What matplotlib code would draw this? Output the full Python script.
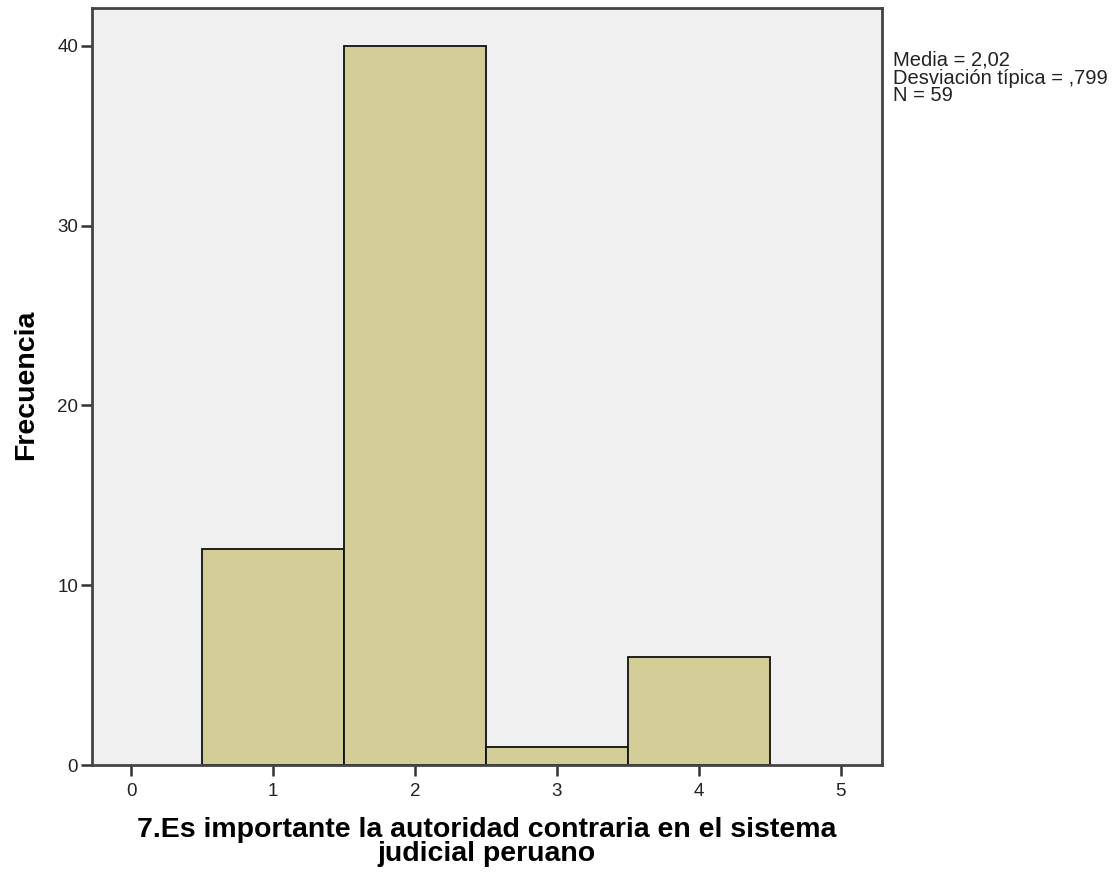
import matplotlib
matplotlib.use("Agg")
import matplotlib.pyplot as plt

categories = [1, 2, 3, 4]
frequencies = [12, 40, 1, 6]
x_ticks = [0, 1, 2, 3, 4, 5]
y_ticks = [0, 10, 20, 30, 40]
stats_lines = ["Media = 2,02", "Desviación típica = ,799", "N = 59"]
x_label = "7.Es importante la autoridad contraria en el sistema\njudicial peruano"
y_label = "Frecuencia"

plt.rcParams['font.family'] = ['Liberation Sans', 'DejaVu Sans']

fig = plt.figure(figsize=(11.2, 8.77), dpi=100)
ax = fig.add_axes([92/1120, 1-765/877, (882-92)/1120, (765-8)/877])
ax.set_facecolor('#F0F0F0')

ax.bar(categories, frequencies, width=1.0, color='#D3CE97', edgecolor='#111111', linewidth=1.3, zorder=2)

ax.set_xlim(-0.275, 5.29)
ax.set_ylim(0, 42.1)
ax.set_xticks(x_ticks)
ax.set_yticks(y_ticks)
ax.tick_params(axis='both', direction='out', length=8, width=1.8, color='#333333',
               labelsize=13.5, labelcolor='#222222', pad=2)
ax.tick_params(axis='x', pad=5)
for s in ax.spines.values():
    s.set_linewidth(2)
    s.set_color('#444444')

ax.set_xlabel(x_label, fontsize=20.5, fontweight='bold', linespacing=0.88)
ax.xaxis.set_label_coords(0.5, -0.0687)
ax.set_ylabel(y_label, fontsize=20.5, fontweight='bold')
ax.yaxis.set_label_coords(-0.067, 0.502)

fig.text(893/1120, 1-51/877, "\n".join(stats_lines), fontsize=14.5, va='top', ha='left',
         linespacing=0.9, color='#222222')

fig.savefig("out.png", dpi=100)
